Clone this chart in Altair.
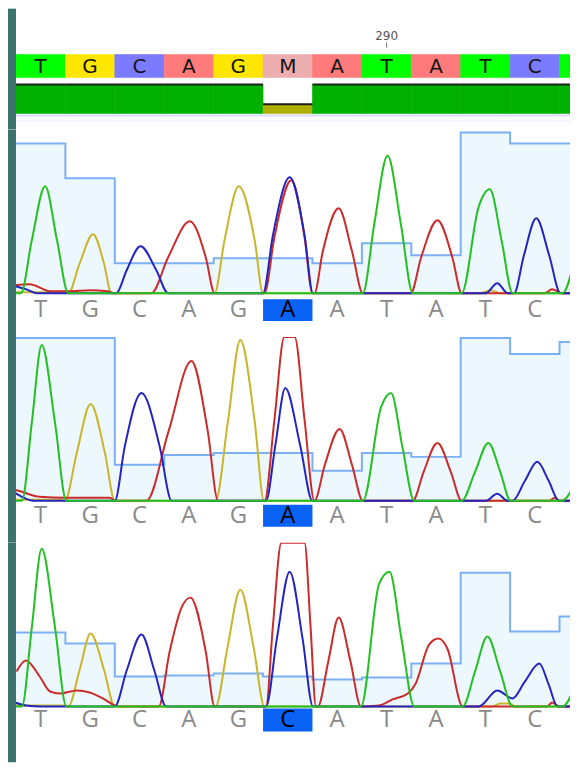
import altair as alt
import pandas as pd

# ---------------- data ----------------
positions = [283, 284, 285, 286, 287, 288, 289, 290, 291, 292, 293, 294]
consensus = ["T", "G", "C", "A", "G", "M", "A", "T", "A", "T", "C", "T"]
consensus_quality = [60, 60, 60, 60, 60, 19, 60, 60, 60, 60, 60, 60]
ruler_position = 290
highlight_position = 288

read1_calls = ["T", "G", "C", "A", "G", "A", "A", "T", "A", "T", "C", "T"]
read2_calls = ["T", "G", "C", "A", "G", "A", "A", "T", "A", "T", "C", "T"]
read3_calls = ["T", "G", "C", "A", "G", "C", "A", "T", "A", "T", "C", "T"]

read1_quality = [150, 115, 30, 30, 35, 35, 30, 50, 38, 161, 150, 150]
read2_quality = [163, 163, 36, 46, 48, 48, 30, 48, 44, 163, 147, 159]
read3_quality = [74, 63, 30, 31, 33, 30, 27, 29, 43, 134, 75, 90]

# trace samples: (position, signal)
read1_T = [(282.48, 0), (282.60, 0), (282.82, 53), (283.09, 107), (283.33, 53), (283.56, 0),
           (289.52, 0), (289.75, 69), (290.02, 138), (290.29, 69), (290.53, 0),
           (291.52, 0), (291.86, 86), (292.09, 104), (292.33, 52), (292.55, 0),
           (293.56, 0), (293.87, 47), (294.10, 100)]
read1_G = [(282.48, 1), (283.50, 1), (283.56, 0), (283.79, 30), (284.06, 59), (284.28, 30), (284.43, 0),
           (286.52, 0), (286.72, 53), (287.01, 107), (287.33, 53), (287.50, 0),
           (291.90, 0), (292.10, 3), (292.30, 0), (294.30, 0)]
read1_C = [(282.48, 7), (282.70, 4), (282.92, 0),
           (284.53, 0), (284.74, 23), (285.02, 47), (285.34, 23), (285.58, 0),
           (287.50, 0), (287.70, 58), (288.04, 116), (288.34, 58), (288.51, 0),
           (292.01, 0), (292.24, 10), (292.45, 0),
           (292.58, 0), (292.78, 38), (293.03, 75), (293.29, 38), (293.52, 0), (294.30, 0)]
read1_A = [(282.48, 8), (282.78, 9), (283.19, 2), (283.60, 2), (284.00, 3), (284.35, 2), (284.50, 0),
           (285.24, 0), (285.58, 36), (286.02, 72), (286.34, 36), (286.52, 0),
           (287.53, 0), (287.73, 56), (288.07, 113), (288.34, 56), (288.50, 0),
           (288.54, 0), (288.71, 42), (289.03, 85), (289.30, 42), (289.52, 0),
           (290.49, 0), (290.70, 36), (291.03, 73), (291.33, 36), (291.52, 0),
           (293.20, 0), (293.35, 4), (293.55, 0), (294.30, 0)]

read2_T = [(282.48, 0), (282.62, 0), (282.82, 78), (283.02, 156), (283.29, 78), (283.52, 0),
           (289.52, 0), (289.89, 94), (290.09, 108), (290.32, 54), (290.56, 0),
           (291.52, 0), (291.79, 29), (292.06, 58), (292.30, 29), (292.51, 0),
           (293.54, 0), (293.87, 24), (294.10, 55)]
read2_G = [(282.48, 1), (283.40, 1), (283.49, 0), (283.73, 48), (284.01, 97), (284.30, 48), (284.50, 0),
           (286.54, 0), (286.79, 80), (287.04, 161), (287.33, 80), (287.52, 0), (294.30, 0)]
read2_C = [(282.48, 8), (282.62, 4), (282.85, 0),
           (284.50, 0), (284.70, 54), (285.04, 108), (285.41, 54), (285.65, 0),
           (287.56, 0), (287.75, 56), (287.95, 113), (288.25, 56), (288.50, 0),
           (292.01, 0), (292.24, 7), (292.45, 0),
           (292.55, 0), (292.80, 20), (293.05, 39), (293.28, 20), (293.49, 0), (294.30, 0)]
read2_A = [(282.48, 11), (282.62, 9), (282.98, 4), (283.50, 3), (284.40, 3), (284.50, 0),
           (285.14, 0), (285.59, 70), (286.05, 140), (286.38, 70), (286.59, 0),
           (287.53, 0), (287.73, 81), (287.93, 200), (288.14, 200), (288.34, 81), (288.54, 0),
           (288.75, 36), (289.05, 72), (289.30, 36), (289.52, 0),
           (290.53, 0), (290.75, 29), (291.03, 58), (291.30, 29), (291.52, 0),
           (293.30, 0), (293.40, 3), (293.50, 0), (294.30, 0)]

read3_T = [(282.48, 0), (282.62, 0), (282.82, 79), (283.02, 158), (283.29, 79), (283.52, 0),
           (289.48, 0), (289.85, 123), (290.06, 135), (290.30, 68), (290.56, 0),
           (291.54, 0), (291.79, 35), (292.04, 70), (292.30, 35), (292.55, 0),
           (293.56, 0), (293.87, 28), (294.10, 65)]
read3_G = [(282.48, 1), (283.50, 1), (283.56, 0), (283.79, 37), (284.01, 73), (284.28, 37), (284.50, 0),
           (286.54, 0), (286.78, 59), (287.04, 117), (287.31, 59), (287.53, 0),
           (292.15, 0), (292.30, 3), (292.50, 3), (292.60, 0), (294.30, 0)]
read3_C = [(282.48, 4), (282.70, 1), (283.00, 0),
           (284.50, 0), (284.74, 36), (285.04, 72), (285.30, 36), (285.54, 0),
           (287.56, 0), (287.78, 68), (288.04, 135), (288.30, 68), (288.51, 0),
           (291.87, 0), (292.24, 16), (292.55, 8), (292.80, 25), (293.09, 43), (293.28, 22), (293.46, 0),
           (294.30, 0)]
read3_A = [(282.51, 35), (282.70, 46), (282.98, 30), (283.19, 15), (283.39, 13), (283.73, 16),
           (283.99, 14), (284.26, 8), (284.50, 1), (284.60, 0),
           (285.39, 0), (285.61, 55), (285.85, 99), (286.03, 109), (286.34, 55), (286.52, 0),
           (287.56, 0), (287.70, 81), (287.87, 200), (288.34, 200), (288.46, 81), (288.57, 0),
           (288.61, 0), (288.82, 45), (289.03, 89), (289.27, 45), (289.48, 0),
           (289.85, 1), (290.12, 7), (290.43, 13), (290.59, 23), (290.86, 62), (291.05, 68),
           (291.23, 58), (291.54, 0),
           (293.25, 0), (293.35, 4), (293.50, 0), (294.30, 0)]

# ---------------- styling ----------------
TEAL = "#3c736d"
TOTAL_W = 563
STRIP_W = 8
BASE_W = 49.5
X_DOMAIN = [282.5, 282.5 + (TOTAL_W - STRIP_W) / BASE_W]
CH_COLORS = {"A": "#cc2b2b", "C": "#2424c0", "G": "#c9b52a", "T": "#22c022"}
CELL_DOMAIN = ["A", "C", "G", "T", "M"]
CELL_RANGE = ["#ff7b7b", "#7b7bff", "#ffe600", "#00ff00", "#ebadad"]

xs = alt.Scale(domain=X_DOMAIN, range=[STRIP_W, TOTAL_W], nice=False, zero=False)
strip_df = pd.DataFrame({"k": [0]})


def strip(height):
    return alt.Chart(strip_df).mark_rect(color=TEAL).encode(
        x=alt.value(0), x2=alt.value(STRIP_W), y=alt.value(0), y2=alt.value(height))


def cells_frame(letters, quality=None):
    df = pd.DataFrame({"pos": positions, "letter": letters})
    df["start"] = df["pos"] - 0.5
    df["end"] = df["pos"] + 0.5
    if quality is not None:
        df["q"] = quality
    return df


# ---------------- header ----------------
HEADER_H = 121
hdr = cells_frame(consensus, consensus_quality)
qs = alt.Scale(domain=[0, 60], range=[105, 76], nice=False)

ruler_df = pd.DataFrame({"pos": [ruler_position], "label": [str(ruler_position)]})
ruler_text = alt.Chart(ruler_df).mark_text(fontSize=12, color="#555", font="DejaVu Sans").encode(
    x=alt.X("pos:Q", scale=xs, axis=None), y=alt.value(27), text="label:N")
ruler_tick = alt.Chart(ruler_df).mark_rule(color="#777", strokeWidth=1).encode(
    x=alt.X("pos:Q", scale=xs, axis=None), y=alt.value(34), y2=alt.value(39))

cell_color = alt.Color("letter:N", scale=alt.Scale(domain=CELL_DOMAIN, range=CELL_RANGE), legend=None)
cell_rects = alt.Chart(hdr).mark_rect(clip=True, strokeWidth=0.6).encode(
    x=alt.X("start:Q", scale=xs, axis=None), x2="end:Q",
    y=alt.value(46), y2=alt.value(69),
    color=cell_color, stroke=cell_color)
cell_text = alt.Chart(hdr).mark_text(fontSize=20, color="#151515", font="DejaVu Sans", clip=True).encode(
    x=alt.X("pos:Q", scale=xs, axis=None), y=alt.value(58), text="letter:N")

qcol = alt.condition(alt.datum.q >= 30, alt.value("#00b000"), alt.value("#b0b000"))
qbar = alt.Chart(hdr).mark_rect(clip=True, strokeWidth=0.6).encode(
    x=alt.X("start:Q", scale=xs, axis=None), x2="end:Q",
    y=alt.Y("q:Q", scale=qs, axis=None), y2=alt.datum(0),
    color=qcol, stroke=qcol)
qtop = alt.Chart(hdr).mark_rule(color="#1e1e1e", strokeWidth=2, clip=True).encode(
    x=alt.X("start:Q", scale=xs, axis=None), x2="end:Q",
    y=alt.Y("q:Q", scale=qs, axis=None))
sep1 = alt.Chart(strip_df).mark_rule(color="#dcdcfa", strokeWidth=2).encode(
    x=alt.value(STRIP_W), x2=alt.value(TOTAL_W), y=alt.value(107))
sep2 = alt.Chart(strip_df).mark_rule(color="#e6e6fb", strokeWidth=1).encode(
    x=alt.value(STRIP_W), x2=alt.value(TOTAL_W), y=alt.value(112.5))

header = alt.layer(ruler_text, ruler_tick, cell_rects, cell_text, qbar, qtop, sep1, sep2,
                   strip(HEADER_H)).properties(width=TOTAL_W, height=HEADER_H)


# ---------------- trace panels ----------------
def trace_panel(traces, quality, calls, height, box_y, box_y2, label_y):
    ys = alt.Scale(domain=[0, 164], range=[164, 0], clamp=True, nice=False, zero=False)
    qdf = pd.DataFrame({"pos": [p - 0.5 for p in positions] + [positions[-1] + 0.5],
                        "q": quality + [quality[-1]]})
    qarea = alt.Chart(qdf).mark_area(
        interpolate="step-after", color="#e5f5fd", clip=True,
        line={"color": "#7cb0f4", "strokeWidth": 2}).encode(
        x=alt.X("pos:Q", scale=xs, axis=None),
        y=alt.Y("q:Q", scale=ys, axis=None), y2=alt.datum(0))
    layers = [qarea]
    for ch in ["G", "A", "C", "T"]:
        df = pd.DataFrame(traces[ch], columns=["pos", "signal"])
        df["i"] = range(len(df))
        layers.append(alt.Chart(df).mark_line(
            interpolate="monotone", color=CH_COLORS[ch], strokeWidth=2, clip=True).encode(
            x=alt.X("pos:Q", scale=xs, axis=None),
            y=alt.Y("signal:Q", scale=ys, axis=None),
            order=alt.Order("i:Q")))
    cdf = cells_frame(calls)
    hl = alt.Chart(cdf).transform_filter(alt.datum.pos == highlight_position).mark_rect(
        color="#0a62f5").encode(
        x=alt.X("start:Q", scale=xs, axis=None), x2="end:Q",
        y=alt.value(box_y), y2=alt.value(box_y2))
    labels = alt.Chart(cdf).transform_filter(alt.datum.pos < 294).mark_text(
        fontSize=24, font="Open Sans", clip=True).encode(
        x=alt.X("pos:Q", scale=xs, axis=None), y=alt.value(label_y), text="letter:N",
        color=alt.condition(alt.datum.pos == highlight_position, alt.value("#000000"), alt.value("#8a8a8a")))
    layers += [hl, labels, strip(height)]
    return alt.layer(*layers).properties(width=TOTAL_W, height=height)


p1 = trace_panel({"A": read1_A, "C": read1_C, "G": read1_G, "T": read1_T},
                 read1_quality, read1_calls, 208, 170, 192, 181)
p2 = trace_panel({"A": read2_A, "C": read2_C, "G": read2_G, "T": read2_T},
                 read2_quality, read2_calls, 206, 168, 190, 179)
p3 = trace_panel({"A": read3_A, "C": read3_C, "G": read3_G, "T": read3_T},
                 read3_quality, read3_calls, 220, 166, 189, 178)

chart = alt.vconcat(header, p1, p2, p3, spacing=0).properties(
    padding=0,
    background="white",
).configure_view(stroke=None, fill="white")

chart.save("out.html", embed_options={"renderer": "svg", "actions": False})
